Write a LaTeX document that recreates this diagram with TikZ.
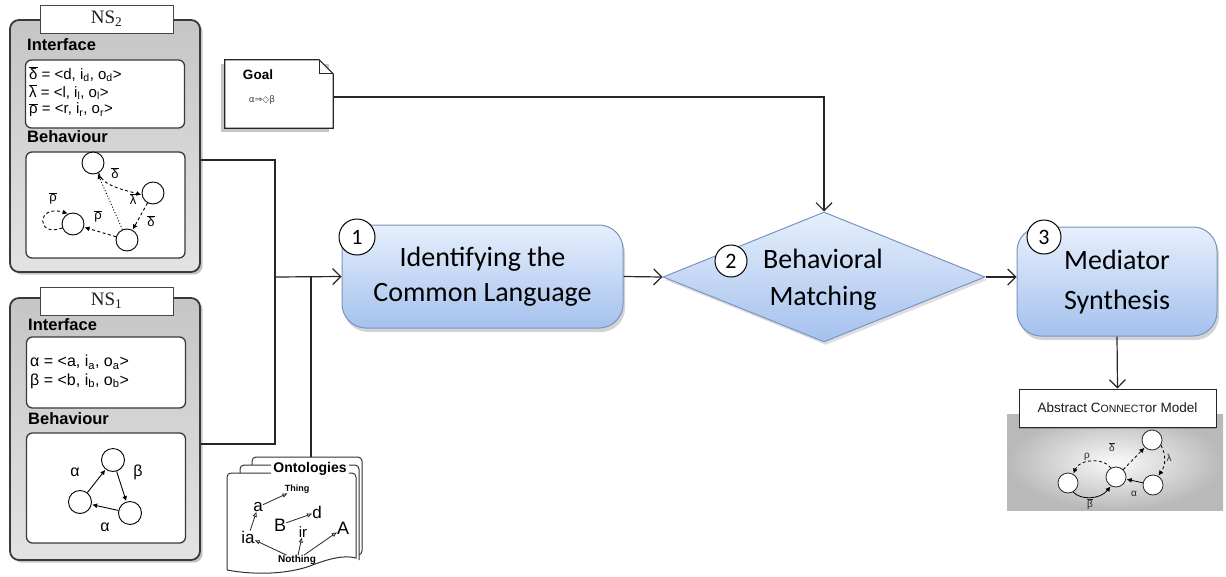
\documentclass[tikz,border=0pt]{standalone}
\usepackage{fontspec}
\setmainfont{Liberation Sans}
\newfontfamily\calib{Carlito}
\newfontfamily\djv{DejaVu Sans}
\newfontfamily\tabfont{Liberation Serif}
\usetikzlibrary{arrows.meta,shapes.geometric,shadows,calc}

\definecolor{stepTop}{HTML}{E6EFFC}
\definecolor{stepBot}{HTML}{A4C1ED}
\definecolor{stepLine}{HTML}{7A94BF}

\newcommand\ob[1]{$\overline{\mbox{#1}}$}
\newcommand\sbs[1]{\textsubscript{#1}}

\tikzset{
  nsframe/.style={draw=gray!45!black, line width=1.8pt, rounded corners=9pt,
    top color=gray!45, bottom color=gray!22, drop shadow={opacity=0.45},
    minimum width=190pt, inner sep=0},
  nstab/.style={draw=gray!55!black, line width=1pt, fill=white,
    minimum width=133pt, minimum height=28pt, inner sep=0,
    font=\tabfont\fontsize{19}{20}\selectfont, text=gray!25!black},
  ibox/.style={draw=gray!45!black, line width=1.3pt, rounded corners=6pt,
    fill=white, minimum width=159pt, inner sep=0},
  seclabel/.style={anchor=west, inner sep=0, font=\bfseries\fontsize{16.5}{18}\selectfont},
  ifline/.style={anchor=west, inner sep=0, font=\fontsize{15}{16}\selectfont},
  ifbig/.style={anchor=west, inner sep=0, font=\fontsize{16}{17}\selectfont},
  st/.style={circle, draw, line width=0.9pt, fill=white, minimum size=22pt, inner sep=0},
  mst/.style={circle, draw=gray!30!black, line width=0.8pt, fill=white, minimum size=20pt, inner sep=0},
  lbl/.style={inner sep=0, font=\fontsize{13}{14}\selectfont},
  mlbl/.style={inner sep=0, font=\fontsize{10}{11}\selectfont, text=gray!30!black},
  trans/.style={line width=0.9pt, -{Latex[length=5pt,width=5pt]}, shorten >=0.5pt},
  dshl/.style={trans, dash pattern=on 3pt off 2.5pt},
  dotline/.style={trans, dash pattern=on 1pt off 2pt},
  stepbox/.style={draw=stepLine, line width=1pt, rounded corners=24pt,
    top color=stepTop, bottom color=stepBot,
    drop shadow={opacity=0.35, shadow xshift=2pt, shadow yshift=-4pt},
    align=center, inner sep=0, text=black,
    font=\calib\fontsize{28}{35}\selectfont},
  numc/.style={circle, draw, line width=1pt, fill=white, inner sep=0,
    font=\calib\fontsize{22}{22}\selectfont},
  flowline/.style={draw=black!85, line width=1.2pt},
  flowarrow/.style={flowline, -{Straight Barb[length=8pt,width=16pt,line width=1.2pt]}},
  sheet/.style={draw=gray!40!black, line width=1pt, fill=white},
  onto/.style={inner sep=0, font=\fontsize{17}{18}\selectfont},
  oarrow/.style={draw=gray!30!black, line width=0.8pt, -{Triangle[open,length=5pt,width=4pt]}},
}

\begin{document}
\begin{tikzpicture}[x=1pt,y=-1pt]
\useasboundingbox (0,0) rectangle (1226,576);

% ---------- NS2 ----------
\node[nsframe, minimum height=252pt] (ns2) at (105,146) {};
\node[nstab] (ns2tab) at (106.5,19) {NS\sbs{2}};
\node[seclabel] (ns2if) at (27,45) {Interface};
\node[ibox, minimum height=68pt] (ns2ib) at (105,94) {};
\node[ifline] (l2a) at (29,74) {\ob{δ} = <d, i\sbs{d}, o\sbs{d}>};
\node[ifline] (l2b) at (29,92) {\ob{λ} = <l, i\sbs{l}, o\sbs{l}>};
\node[ifline] (l2c) at (29,110) {\ob{ρ} = <r, i\sbs{r}, o\sbs{r}>};
\node[seclabel] (ns2bh) at (27,137) {Behaviour};
\node[ibox, minimum height=106pt] (ns2bb) at (105.5,205) {};
\node[st] (n2a) at (93,163) {};
\node[st] (n2b) at (153,193) {};
\node[st] (n2c) at (73,224) {};
\node[st] (n2d) at (127,240) {};
\draw[dshl] (n2a.-60) .. controls (102,186) and (125,190) .. (n2b.190);
\draw[dotline] (n2d) -- (n2a);
\draw[dshl] (n2b) -- (n2d);
\draw[dshl] (n2d) -- (n2c);
\draw[dshl] (n2c.200) .. controls (36,238) and (36,204) .. (n2c.115);
\node[lbl] at (115,173) {\ob{δ}};
\node[lbl] at (133,199) {\ob{λ}};
\node[lbl] at (53,198) {\ob{ρ}};
\node[lbl] at (98,216) {\ob{ρ}};
\node[lbl] at (151,221) {\ob{δ}};

% ---------- NS1 ----------
\node[nsframe, minimum height=262pt] (ns1) at (105,429) {};
\node[nstab] (ns1tab) at (106.5,301) {NS\sbs{1}};
\node[seclabel] (ns1if) at (28,325) {Interface};
\node[ibox, minimum height=71pt] (ns1ib) at (106,372.5) {};
\node[ifbig] (l1a) at (30,362) {α = <a, i\sbs{a}, o\sbs{a}>};
\node[ifbig] (l1b) at (30,381) {β = <b, i\sbs{b}, o\sbs{b}>};
\node[seclabel] (ns1bh) at (28,419) {Behaviour};
\node[ibox, minimum height=110pt] (ns1bb) at (106,488) {};
\node[st, minimum size=23pt] (n1t) at (113,460) {};
\node[st, minimum size=23pt] (n1l) at (80,502) {};
\node[st, minimum size=23pt] (n1r) at (130,513) {};
\draw[trans] (n1l) -- (n1t);
\draw[trans] (n1t) -- (n1r);
\draw[trans] (n1r) -- (n1l);
\node[lbl, font=\fontsize{16}{17}\selectfont] at (75,472) {α};
\node[lbl, font=\fontsize{16}{17}\selectfont] at (138,472) {β};
\node[lbl, font=\fontsize{16}{17}\selectfont] at (105,527) {α};

% ---------- Goal ----------
\node[minimum width=108pt, minimum height=68pt, inner sep=0] (goal) at (279,94) {};
\fill[gray!45] ([xshift=-4pt,yshift=-4pt]goal.north west) rectangle ([xshift=-4pt,yshift=-4pt]goal.south east);
\draw[line width=1.2pt, draw=gray!30!black, fill=white]
  (goal.north west) -- ([xshift=-14pt]goal.north east) -- ([yshift=-14pt]goal.north east)
  -- (goal.south east) -- (goal.south west) -- cycle;
\draw[line width=0.8pt, draw=gray!30!black]
  ([xshift=-14pt]goal.north east) -- ([xshift=-14pt,yshift=-14pt]goal.north east) -- ([yshift=-14pt]goal.north east);
\node[inner sep=0, font=\bfseries\fontsize{13.5}{14}\selectfont] (goalt) at (258,75) {Goal};
\node[inner sep=0, font=\djv\fontsize{9}{10}\selectfont, text=gray!55!black] (goalf) at (262,100) {α⇒◇β};

% ---------- Ontologies ----------
\node[sheet, rounded corners=4pt, minimum width=110pt, minimum height=98pt, inner sep=0] (onto) at (307,506) {};
\draw[sheet, rounded corners=4pt] (240,562) -- (240,465) -- (359,465) -- (359,560);
\draw[sheet] (227,570) -- (227,477) [rounded corners=4pt] -- (227,473) -- (356,473) [sharp corners] -- (356,558)
  .. controls (345,555) and (330,558) .. (310,566) .. controls (290,573) and (260,576) .. (227,570);
\node[fill=white, inner xsep=2pt, inner ysep=0pt, font=\bfseries\fontsize{14}{15}\selectfont] (ontl) at (310,469) {Ontologies};
\node[inner sep=0, font=\bfseries\fontsize{9}{10}\selectfont] (thing) at (297,489) {Thing};
\node[onto] (oa) at (258,507) {a};
\node[onto] (oia) at (248,537) {ia};
\node[onto, font=\fontsize{18}{19}\selectfont] (oB) at (280,525) {B};
\node[onto] (od) at (317,512) {d};
\node[onto, font=\fontsize{15}{16}\selectfont] (oir) at (303,532) {ir};
\node[onto, font=\fontsize{18}{19}\selectfont] (oA) at (343,528) {A};
\node[inner sep=0, font=\bfseries\fontsize{10}{11}\selectfont] (nothing) at (297,560) {Nothing};
\draw[oarrow] (oa) -- (thing);
\draw[oarrow] (oia) -- (oa);
\draw[oarrow] (oB) -- (od);
\draw[oarrow] (nothing) -- (oia);
\draw[oarrow] (nothing) -- (oir);
\draw[oarrow] (nothing) -- (oA);

% ---------- Process steps ----------
\node[stepbox, minimum width=281pt, minimum height=103pt] (s1) at (482.5,276.5)
  {Identifying the\\Common Language};
\node[numc, minimum size=36pt] (c1) at (357,237) {1};

\node[draw=stepLine, line width=1pt, shape=diamond, top color=stepTop, bottom color=stepBot,
  minimum width=322pt, minimum height=130pt, inner sep=0,
  drop shadow={opacity=0.25, shadow xshift=2pt, shadow yshift=-3pt}] (bm) at (824,277) {};
\node[align=center, inner sep=0, text=black, font=\calib\fontsize{28}{37}\selectfont] (bmt) at (823,280)
  {Behavioral\\Matching};
\node[numc, minimum size=32pt] (c2) at (731,261) {2};

\node[stepbox, minimum width=200pt, minimum height=109pt] (s3) at (1117,281.5) {};
\node[align=center, inner sep=0, text=black, font=\calib\fontsize{28}{40}\selectfont] (s3t) at (1117,282)
  {Mediator\\Synthesis};
\node[numc, minimum size=34pt] (c3) at (1044,237) {3};

% ---------- Abstract connector model ----------
\shade[inner color=gray!4, outer color=gray!55] (1007,414) rectangle (1223,510);
\node[draw=gray!30!black, line width=1pt, fill=white, minimum width=197pt, minimum height=38pt,
  inner sep=0, font=\fontsize{13.5}{14}\selectfont, text=gray!20!black,
  drop shadow={opacity=0.6, shadow xshift=0pt, shadow yshift=-2pt}] (acm) at (1117.5,408)
  {Abstract C{\fontsize{10.5}{11}\selectfont ONNECT}or Model};
\node[mst] (mL) at (1068,483) {};
\node[mst] (mM) at (1116,477) {};
\node[mst] (mTR) at (1152,440) {};
\node[mst] (mBR) at (1153,485) {};
\draw[dshl, line width=0.8pt] (mM.120) .. controls (1105,458) and (1080,458) .. (mL.60);
\draw[trans, line width=0.8pt] (mL.-60) .. controls (1080,500) and (1100,500) .. (mM.-120);
\draw[dshl, line width=0.8pt] (mM) -- (mTR);
\draw[dshl, line width=0.8pt] (mTR.-30) .. controls (1166,455) and (1166,465) .. (mBR.60);
\draw[trans, line width=0.8pt] (mBR) -- (mM);
\node[mlbl] at (1087,457) {ρ};
\node[mlbl] at (1112,447) {\ob{δ}};
\node[mlbl] at (1169,458) {λ};
\node[mlbl] at (1134,494) {α};
\node[mlbl] at (1090,504) {\ob{β}};

% ---------- Connectors ----------
\coordinate (j) at (275,277);
\draw[flowline] ([yshift=-14pt]ns2.east) -| (j);
\draw[flowline] ([yshift=-15pt]ns1.east) -| (j);
\draw[flowline] ([xshift=4pt]onto.north) -- ([xshift=4pt]onto.north |- j);
\draw[flowarrow] (j) -- (s1.west);
\draw[flowarrow] ([yshift=-3pt]goal.east) -| (bm.north);
\draw[flowarrow] (s1.east) -- (bm.west);
\draw[flowarrow] (bm.east) -- (bm.east -| s3.west);
\draw[flowarrow] (s3.south) -- (acm.north);
\end{tikzpicture}
\end{document}
